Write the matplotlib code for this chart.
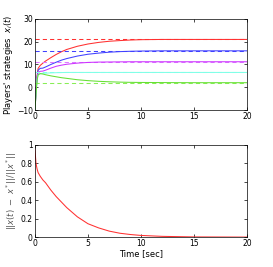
import matplotlib
matplotlib.use("Agg")
import matplotlib.pyplot as plt

# 时间采样点
t = [0, 0.1, 0.2, 0.3, 0.5, 0.75, 1, 1.5, 2, 2.5, 3, 4, 5, 6, 7, 8, 9, 10, 12, 15, 20]
x_red = [-10, -2, 5, 8.3, 9.6, 10.6, 11.5, 13.0, 14.4, 15.6, 16.6, 18.0, 19.0, 19.7, 20.2, 20.5, 20.75, 20.9, 21, 21, 21]
x_blue = [-10, -2, 4.5, 7.5, 8.3, 8.4, 8.9, 10.0, 11.0, 11.9, 12.6, 13.7, 14.5, 15.0, 15.4, 15.65, 15.8, 15.9, 16, 16, 16]
x_mag = [-10, -2.5, 4, 6.5, 7.0, 7.1, 7.5, 8.4, 9.2, 9.7, 10.1, 10.6, 10.9, 11.05, 11.1, 11.15, 11.2, 11.2, 11.2, 11.2, 11.2]
x_cyan = [-10, -3, 3.5, 5.5, 5.9, 6.1, 6.2, 6.3, 6.4, 6.45, 6.5, 6.5, 6.5, 6.5, 6.5, 6.5, 6.5, 6.5, 6.5, 6.5, 6.5]
x_green = [-10, -3, 3, 5.5, 6.0, 5.8, 5.5, 5.0, 4.6, 4.2, 3.9, 3.3, 2.9, 2.6, 2.4, 2.25, 2.15, 2.1, 2.05, 2, 2]
x_star = {"r": 21, "b": 16, "m": 11.2, "c": 6.5, "g": 2}

err = [0.95, 0.8, 0.74, 0.7, 0.66, 0.62, 0.59, 0.51, 0.44, 0.38, 0.32, 0.22, 0.145, 0.1, 0.065, 0.042, 0.028, 0.018, 0.008, 0.002, 0.0]

plt.rcParams["font.family"] = ["DejaVu Sans"]
plt.rcParams["font.size"] = 5.5

fig = plt.figure(figsize=(2.73, 2.67), dpi=100)
ax1 = fig.add_axes([0.128, 0.588, 0.777, 0.341])
ax2 = fig.add_axes([0.128, 0.112, 0.777, 0.345])

colors = {"r": "#ff3030", "b": "#4040ff", "m": "#cc33ff", "c": "#80ffe8", "g": "#66e033"}
dash_colors = {"r": "#ff3030", "b": "#4040ff", "m": "#dd77ff", "c": "#80ffe8", "g": "#88ee55"}
for key, ys in zip("rbmcg", [x_red, x_blue, x_mag, x_cyan, x_green]):
    ax1.axhline(x_star[key], color=dash_colors[key], lw=0.75, ls=(0, (4, 3)))
    ax1.plot(t, ys, color=colors[key], lw=0.75)

ax1.set_xlim(0, 20)
ax1.set_ylim(-10, 30)
ax1.set_yticks([-10, 0, 10, 20, 30])
ax1.set_xticks([0, 5, 10, 15, 20])
ax1.set_ylabel("Players' strategies  $x_i(t)$", fontsize=6, labelpad=1)

ax2.plot(t, err, color="#ff3030", lw=0.75)
ax2.set_xlim(0, 20)
ax2.set_ylim(0, 1)
ax2.set_yticks([0, 0.2, 0.4, 0.6, 0.8, 1])
ax2.set_yticklabels(["0", "0.2", "0.4", "0.6", "0.8", "1"])
ax2.set_xticks([0, 5, 10, 15, 20])
ax2.set_xlabel("Time [sec]", fontsize=6, labelpad=1)
ax2.set_ylabel(r"$||x(t)\ -\ x^*||/||x^*||$", fontsize=6, labelpad=1, color="#555555")

for ax in (ax1, ax2):
    ax.tick_params(direction="in", length=2, width=0.5, pad=1.5, top=True, right=True)
    for s in ax.spines.values():
        s.set_linewidth(0.5)

fig.savefig("out.png", dpi=100)
